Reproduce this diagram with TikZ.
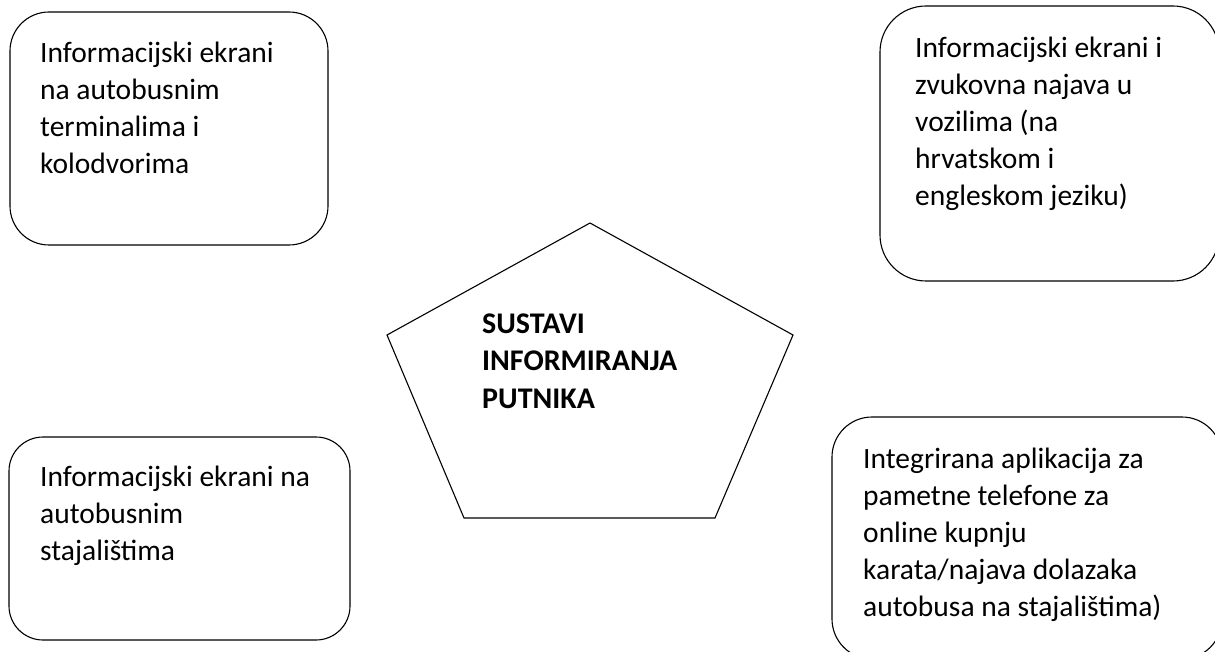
\documentclass[tikz,border=0pt]{standalone}
\usepackage{fontspec}
\setmainfont{Carlito}
\begin{document}
\begin{tikzpicture}[x=1pt,y=-1pt,
  roundbox/.style={draw=black, line width=1.1pt, fill=white, rectangle, inner sep=0pt},
  boxtext/.style={anchor=base west, inner sep=0pt, font=\fontsize{29.5}{37}\selectfont},
  titletext/.style={anchor=base west, inner sep=0pt, font=\fontsize{30}{37.5}\selectfont\bfseries},
  pentline/.style={draw=black, line width=1.1pt, line join=miter}
]
\useasboundingbox (0,0) rectangle (1215,652);
\begin{scope}
\clip (0,0) rectangle (1215,652);
% top-left box
\draw[roundbox, rounded corners=39pt] (10,12) rectangle (328,245);
\node[boxtext] (t1) at (40,63) {\begin{tabular}[t]{@{}l@{}}Informacijski ekrani\\na autobusnim\\terminalima i\\kolodvorima\end{tabular}};
% top-right box
\draw[roundbox, rounded corners=46pt] (880,6) rectangle (1219,281);
\node[boxtext] (t2) at (915,58) {\begin{tabular}[t]{@{}l@{}}Informacijski ekrani i\\zvukovna najava u\\vozilima (na\\hrvatskom i\\engleskom jeziku)\end{tabular}};
% bottom-left box
\draw[roundbox, rounded corners=34pt] (9,437) rectangle (350,640);
\node[boxtext] (t3) at (40,486) {\begin{tabular}[t]{@{}l@{}}Informacijski ekrani na\\autobusnim\\stajalištima\end{tabular}};
% bottom-right box
\draw[roundbox, rounded corners=40pt] (832,417) rectangle (1222,659);
\node[boxtext] (t4) at (863,468) {\begin{tabular}[t]{@{}l@{}}Integrirana aplikacija za\\pametne telefone za\\online kupnju\\karata/najava dolazaka\\autobusa na stajalištima)\end{tabular}};
\end{scope}
% pentagon
\coordinate (pt) at (590,223);
\coordinate (pr) at (793,335);
\coordinate (pbr) at (715,518);
\coordinate (pbl) at (464,518);
\coordinate (pl) at (387,335);
\draw[pentline] (pt) -- (pr) -- (pbr) -- (pbl) -- (pl) -- cycle;
\node[titletext] (title) at (482,333) {\begin{tabular}[t]{@{}l@{}}SUSTAVI\\INFORMIRANJA\\PUTNIKA\end{tabular}};
\end{tikzpicture}
\end{document}
